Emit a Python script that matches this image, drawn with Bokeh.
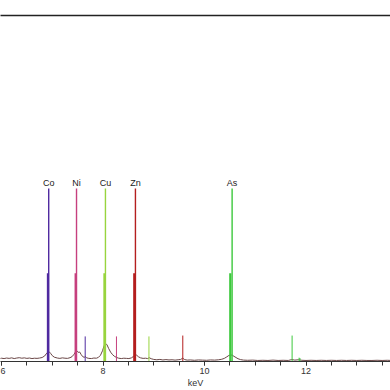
from bokeh.plotting import figure
from bokeh.models import LinearAxis, SingleIntervalTicker, FixedTicker, Range1d, ColumnDataSource
from bokeh.core.properties import value
from bokeh.embed import file_html
from bokeh.resources import INLINE

# ---- data ----
elements = ["Co", "Ni", "Cu", "Zn", "As"]
ka1_kev = [6.930, 7.478, 8.048, 8.639, 10.544]
ka2_kev = [6.915, 7.461, 8.028, 8.616, 10.508]
kb_kev = [7.649, 8.265, 8.905, 9.572, 11.726]
ka1_h = [100, 100, 100, 100, 100]
ka2_h = [51, 51, 51, 51, 51]
kb_h = [14.5, 14.5, 14.5, 15, 15]
extra_kev = [11.864, 11.880]
extra_h = [2.2, 2.0]
el_colors = ["#4f2aa0", "#c6407e", "#98d43e", "#b41e1e", "#3cc83c"]

spec_kev = [5.95, 6.00, 6.05, 6.10, 6.15, 6.20, 6.25, 6.30, 6.35, 6.40, 6.45, 6.50,
            6.55, 6.60, 6.65, 6.70, 6.75, 6.80, 6.85, 6.88, 6.91, 6.94, 6.97, 7.00,
            7.04, 7.10, 7.15, 7.20, 7.25, 7.30, 7.35, 7.39, 7.43, 7.46, 7.49, 7.51,
            7.54, 7.57, 7.60, 7.63, 7.65, 7.68, 7.72, 7.77, 7.82, 7.87, 7.91, 7.95,
            7.99, 8.02, 8.05, 8.08, 8.11, 8.15, 8.19, 8.23, 8.27, 8.31, 8.36, 8.41,
            8.46, 8.51, 8.56, 8.60, 8.63, 8.66, 8.70, 8.74, 8.79, 8.84, 8.88, 8.91,
            8.95, 9.00, 9.06, 9.12, 9.18, 9.24, 9.30, 9.36, 9.42, 9.48, 9.53, 9.57,
            9.61, 9.66, 9.72, 9.80, 9.88, 9.96, 10.04, 10.12, 10.20, 10.28, 10.34,
            10.39, 10.44, 10.48, 10.52, 10.55, 10.58, 10.62, 10.66, 10.71, 10.77,
            10.85, 10.95, 11.05, 11.15, 11.25, 11.35, 11.45, 11.55, 11.65, 11.72,
            11.78, 11.85, 11.92, 12.00, 12.10, 12.20, 12.30, 12.40, 12.50, 12.60,
            12.70, 12.80, 12.90, 13.00, 13.10, 13.20, 13.30, 13.40, 13.50, 13.60, 13.70]
spec_cts = [1.6, 1.9, 1.7, 2.0, 1.8, 2.1, 1.7, 2.0, 2.2, 1.9, 2.1, 1.8,
            2.0, 1.7, 1.9, 1.8, 2.0, 2.3, 3.2, 4.4, 5.4, 5.6, 4.6, 3.4,
            2.5, 2.0, 1.8, 2.1, 1.9, 1.8, 2.2, 2.8, 4.2, 5.6, 6.0, 5.3,
            5.5, 4.0, 2.8, 2.4, 2.9, 2.1, 1.8, 1.7, 2.0, 1.9, 2.4, 3.6,
            6.2, 9.0, 10.5, 9.6, 7.6, 5.4, 3.9, 2.9, 2.3, 1.9, 1.7, 1.9,
            1.8, 1.7, 2.1, 2.9, 3.8, 3.7, 2.7, 2.1, 1.8, 1.9, 1.7, 2.2,
            1.6, 1.2, 1.0, 1.2, 0.9, 1.1, 0.9, 1.0, 0.8, 1.0, 1.2, 1.9,
            1.1, 0.8, 0.9, 0.7, 0.9, 0.8, 0.7, 0.9, 0.8, 1.0, 1.3,
            1.8, 2.7, 3.5, 3.8, 3.6, 3.0, 2.3, 1.6, 1.1, 0.8,
            0.7, 0.8, 0.6, 0.7, 0.6, 0.8, 0.6, 0.7, 0.6, 1.1,
            0.8, 1.0, 0.7, 0.6, 0.7, 0.6, 0.7, 0.6, 0.7, 0.6,
            0.7, 0.6, 0.7, 0.6, 0.7, 0.6, 0.6, 0.7, 0.6, 0.7, 0.6]

x_ticks_interval = 2
x_label = "keV"

# ---- figure ----
p = figure(width=390, height=390, output_backend="svg", toolbar_location=None,
           x_range=Range1d(5.980, 13.665), y_range=Range1d(0, 200),
           y_axis_location=None, x_axis_location=None,
           min_border_left=0, min_border_right=0, min_border_top=15, min_border_bottom=28)
p.outline_line_color = None
p.xgrid.visible = False
p.ygrid.visible = False
p.background_fill_color = "white"
p.border_fill_color = "white"

# top frame line (axis with no ticks and no labels)
top = LinearAxis(ticker=FixedTicker(ticks=[], minor_ticks=[]),
                 major_tick_out=0, major_tick_in=0, minor_tick_out=0, minor_tick_in=0,
                 major_label_standoff=0,
                 axis_line_color="#222222", axis_line_width=1.5)
p.add_layout(top, "above")

# bottom axis
xa = LinearAxis(ticker=SingleIntervalTicker(interval=x_ticks_interval, num_minor_ticks=4),
                axis_label=x_label,
                axis_line_color="#333333", axis_line_width=1,
                major_tick_out=4, major_tick_in=0, minor_tick_out=4, minor_tick_in=0,
                major_tick_line_color="#333333", minor_tick_line_color="#333333",
                major_label_text_font="Liberation Sans", major_label_text_font_size="9px",
                major_label_text_color="#333333", major_label_standoff=2,
                axis_label_text_font="Liberation Sans", axis_label_text_font_size="9px",
                axis_label_text_font_style="normal", axis_label_text_color="#333333",
                axis_label_standoff=1)
p.add_layout(xa, "below")

# spectrum
p.line(spec_kev, spec_cts, line_color="#6a4646", line_width=1)

# element markers
zeros = [0] * len(elements)
p.segment(x0=ka2_kev, y0=zeros, x1=ka2_kev, y1=ka2_h, line_color=el_colors, line_width=2.2)
p.segment(x0=ka1_kev, y0=zeros, x1=ka1_kev, y1=ka1_h, line_color=el_colors, line_width=1.4)
p.segment(x0=kb_kev, y0=zeros, x1=kb_kev, y1=kb_h, line_color=el_colors, line_width=1)
p.segment(x0=extra_kev, y0=[0, 0], x1=extra_kev, y1=extra_h, line_color="#3cc83c", line_width=1)

src = ColumnDataSource(dict(x=ka1_kev, y=ka1_h, t=elements))
p.text(x="x", y="y", text="t", source=src, text_align="center", text_baseline="bottom",
       y_offset=-1, text_font=value("Liberation Sans"), text_font_size="9px",
       text_color="#222222")

open("out.html", "w").write(file_html(p, INLINE))
